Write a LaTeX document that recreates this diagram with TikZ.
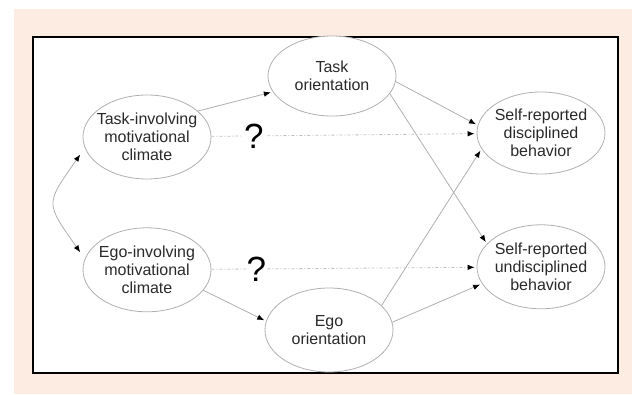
\documentclass[tikz,border=0pt]{standalone}
\usepackage{fontspec}
\setmainfont{Liberation Sans}
\usetikzlibrary{shapes, arrows.meta, positioning}
\definecolor{peach}{HTML}{FDECE2}
\definecolor{linegray}{HTML}{B0B0B0}
\definecolor{txtgray}{HTML}{2A2A2A}
\tikzstyle{factor} = [ellipse, minimum width=128pt, minimum height=84pt, inner xsep=-6pt, inner ysep=0pt, align=center, draw=linegray, line width=0.8pt, fill=white, text=txtgray, font=\fontsize{16}{18}\selectfont]
\tikzstyle{arrow} = [linegray, line width=0.8pt, ->, shorten >=2pt]
\tikzstyle{maybe} = [arrow, draw=linegray!80, dash pattern=on 3pt off 2pt on 1pt off 2pt]
\tikzstyle{qmark} = [font=\fontsize{35}{35}\selectfont, text=black, fill=white, inner sep=1pt]

\begin{document}
\begin{tikzpicture}[x=1pt, y=1pt, >={Latex[color=black, length=7pt, width=5.5pt]}]
   \useasboundingbox (0,0) rectangle (632,394);
   \fill [peach] (14,0) rectangle (632,385);
   \draw [fill=white, line width=2.2pt] (33,21) rectangle (618,357);

   \node (tic) [factor] at (147,257) {Task-involving\\motivational\\climate};
   \node (eic) [factor, below=48pt of tic] {Ego-involving\\motivational\\climate};
   \node (tor) [factor, minimum height=80pt] at (332,318) {Task\\orientation};
   \node (eor) [factor] at (329,64) {Ego\\orientation};
   \node (dis) [factor, minimum height=82pt] at (541,261) {Self-reported\\disciplined\\behavior};
   \node (undis) [factor, below=50pt of dis] {Self-reported\\undisciplined\\behavior};

   \draw [arrow] (tic.27) -- (tor.195);
   \draw [arrow] (eic.340) -- (eor.172);
   \draw [arrow] (tor.355) -- (dis.173);
   \draw [arrow] (tor.343) -- (undis.157);
   \draw [arrow] (eor.25) -- (dis.195);
   \draw [arrow] (eor.7) -- (undis.196);

   \draw [maybe] (tic) -- node[qmark, pos=0.16] {?} (dis);
   \draw [maybe] (eic) -- node[qmark, pos=0.17] {?} (undis);

   \draw [arrow, <->, shorten <=8pt, shorten >=8pt] (tic.190) to[out=235, in=125, looseness=1.6] (eic.170);
\end{tikzpicture}
\end{document}
